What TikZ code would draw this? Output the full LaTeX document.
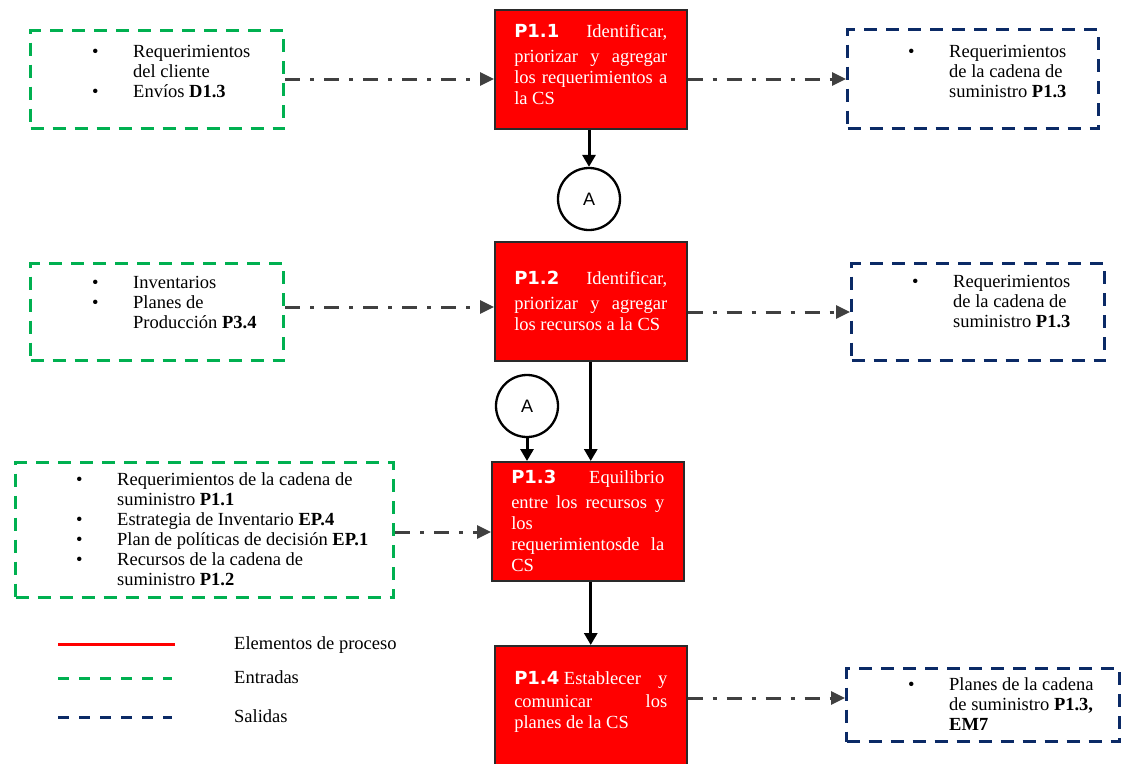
\documentclass[tikz,border=0pt]{standalone}
\usepackage{fontspec}
\setmainfont{Liberation Serif}
\newfontfamily\idsans{DejaVu Sans}
\newfontfamily\circsans{Liberation Sans}
\usetikzlibrary{arrows.meta}

\definecolor{procred}{HTML}{FF0000}
\definecolor{procedge}{HTML}{2A2A2A}
\definecolor{ingreen}{HTML}{00B050}
\definecolor{outblue}{HTML}{0B2A66}
\definecolor{flowgray}{HTML}{404040}

% process identifier, e.g. P1.1
\newcommand{\pid}[1]{{\idsans\bfseries\fontsize{18}{21}\selectfont #1}}
% bulleted list set as a two-column tabular, first baseline on top
\newenvironment{blist}{\begin{tabular}[t]{@{}p{41pt}@{}l@{}}}{\end{tabular}}
\newcommand{\bul}{\textbullet}

\tikzset{
  proc/.style={draw=procedge, line width=1.5pt, fill=procred, text=white,
    anchor=north west, minimum width=192pt, text width=153pt,
    inner xsep=19.5pt, inner ysep=0pt, align=justify,
    font=\fontsize{18.5}{21}\selectfont},
  inbox/.style={draw=ingreen, line width=3pt, dash pattern=on 13pt off 9pt,
    anchor=north west, inner sep=0pt},
  outbox/.style={draw=outblue, line width=3pt, dash pattern=on 13pt off 9pt,
    anchor=north west, inner sep=0pt},
  listtext/.style={anchor=base west, inner sep=0pt, text=black,
    font=\fontsize{18.5}{20}\selectfont},
  joint/.style={circle, draw=black, line width=2.3pt, fill=white,
    minimum size=62pt, inner sep=0pt, font=\circsans\fontsize{18}{18}\selectfont},
  mainflow/.style={draw=black, line width=3pt,
    -{Triangle[length=12pt, width=13pt]}},
  ioflow/.style={draw=flowgray, line width=3pt,
    dash pattern=on 15pt off 10pt on 4pt off 10pt,
    -{Triangle[length=14pt, width=13pt, fill=flowgray]}},
  legendtext/.style={anchor=base west, inner sep=0pt,
    font=\fontsize{18.5}{20}\selectfont}
}

\begin{document}
\begin{tikzpicture}[x=1pt, y=-1pt]
\useasboundingbox (0,0) rectangle (1121,763);
\clip (0,0) rectangle (1121,763);

% ---- process elements ----
\node[proc, minimum height=119pt] (p11) at (494,9)
  {\pid{P1.1}\hfill Identificar,\\[4pt]
   priorizar\hfill y\hfill agregar\\
   los\hfill requerimientos\hfill a\\
   la CS\\[-12pt]\mbox{}};
\node[proc, minimum height=119pt] (p12) at (494,241)
  {\pid{P1.2}\hfill Identificar,\\[4pt]
   priorizar\hfill y\hfill agregar\\
   los recursos a la CS};
\node[proc, minimum height=119pt] (p13) at (491,461)
  {\pid{P1.3}\hfill Equilibrio\\[4pt]
   entre\hfill los\hfill recursos\hfill y\\
   los\\
   requerimientosde\hfill la\\
   CS};
\node[proc, minimum height=125pt] (p14) at (494,645)
  {\pid{P1.4}~Establecer\hfill y\\[2pt]
   comunicar\hfill los\\
   planes de la CS\\[-4pt]\mbox{}};

% ---- connectors between the two halves ----
\node[joint] (ja) at (589,199) {A};
\node[joint] (jb) at (527,406) {A};

% ---- inputs ----
\node[inbox, minimum width=253pt, minimum height=98pt] (in1) at (29,29) {};
\node[listtext] (in1t) at (92,57) {\begin{blist}
  \bul & Requerimientos\\
       & del cliente\\
  \bul & Envíos \textbf{D1.3}
\end{blist}};

\node[inbox, minimum width=253pt, minimum height=97pt] (in2) at (29,262) {};
\node[listtext] (in2t) at (92,288) {\begin{blist}
  \bul & Inventarios\\
  \bul & Planes de\\
       & Producción \textbf{P3.4}
\end{blist}};

\node[inbox, minimum width=378pt, minimum height=135pt] (in3) at (14,461) {};
\node[listtext] (in3t) at (76,485) {\begin{blist}
  \bul & Requerimientos de la cadena de\\
       & suministro \textbf{P1.1}\\
  \bul & Estrategia de Inventario \textbf{EP.4}\\
  \bul & Plan de políticas de decisión \textbf{EP.1}\\
  \bul & Recursos de la cadena de\\
       & suministro \textbf{P1.2}
\end{blist}};

% ---- outputs ----
\node[outbox, minimum width=251pt, minimum height=99pt] (out1) at (846,28) {};
\node[listtext] (out1t) at (908,57) {\begin{blist}
  \bul & Requerimientos\\
       & de la cadena de\\
       & suministro \textbf{P1.3}
\end{blist}};

\node[outbox, minimum width=253pt, minimum height=97pt] (out2) at (850,262) {};
\node[listtext] (out2t) at (912,287) {\begin{blist}
  \bul & Requerimientos\\
       & de la cadena de\\
       & suministro \textbf{P1.3}
\end{blist}};

\node[outbox, minimum width=273pt, minimum height=73pt] (out4) at (845,667) {};
\node[listtext] (out4t) at (908,690) {\begin{blist}
  \bul & Planes de la cadena\\
       & de suministro \textbf{P1.3,}\\
       & \textbf{EM7}
\end{blist}};

% ---- main flow ----
\draw[mainflow] (ja.north |- p11.south) -- (ja.north);
\draw[mainflow] (p12.south) -- (p12.south |- p13.north);
\draw[mainflow] (jb.south) -- (jb.south |- p13.north);
\draw[mainflow] (p14.north |- p13.south) -- (p14.north);

% ---- inputs and outputs ----
\coordinate (row1) at (0,79);
\coordinate (row2i) at (0,307);
\coordinate (row2o) at (0,312);
\coordinate (row3) at (0,532);
\coordinate (row4) at (0,698);
\draw[ioflow] (in1.east |- row1) -- (p11.west |- row1);
\draw[ioflow] (p11.east |- row1) -- (out1.west |- row1);
\draw[ioflow] (in2.east |- row2i) -- (p12.west |- row2i);
\draw[ioflow] (p12.east |- row2o) -- (out2.west |- row2o);
\draw[ioflow] (in3.east |- row3) -- (p13.west |- row3);
\draw[ioflow] (p14.east |- row4) -- (out4.west |- row4);

% ---- legend ----
\coordinate (lga) at (58,644);  \coordinate (lgb) at (175,644);
\coordinate (lgc) at (58,678);  \coordinate (lgd) at (172,678);
\coordinate (lge) at (58,717);  \coordinate (lgf) at (172,717);
\draw[procred, line width=3pt] (lga) -- (lgb);
\draw[ingreen, line width=3pt, dash pattern=on 11pt off 10pt] (lgc) -- (lgd);
\draw[outblue, line width=3pt, dash pattern=on 11pt off 10pt] (lge) -- (lgf);
\node[legendtext] (lg1) at (234,649) {Elementos de proceso};
\node[legendtext] (lg2) at (234,683) {Entradas};
\node[legendtext] (lg3) at (234,722) {Salidas};
\end{tikzpicture}
\end{document}
